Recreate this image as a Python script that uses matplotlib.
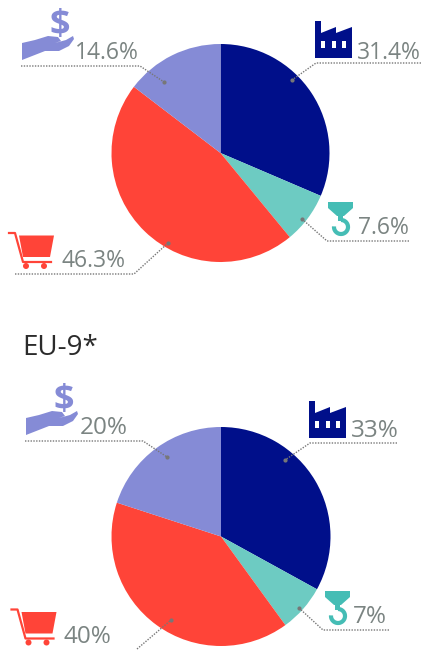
import matplotlib
matplotlib.use("Agg")
import matplotlib.pyplot as plt
from matplotlib.patches import Polygon, Rectangle, Circle, Arc

plt.rcParams['font.family'] = ['Open Sans', 'DejaVu Sans']

# shares, clockwise from 12 o'clock: industry, construction, consumption, finance
top_values = [31.4, 7.6, 46.3, 14.6]
top_labels = ["31.4%", "7.6%", "46.3%", "14.6%"]
bottom_values = [33, 7, 40, 20]
bottom_labels = ["33%", "7%", "40%", "20%"]
title = "EU-9*"

colors = ["#000f8a", "#6dcbc2", "#ff4438", "#858bd6"]
hook_color = "#45bdb5"
grey = "#7b8482"

# figure in pixels, y going down
fig = plt.figure(figsize=(4.22, 6.5), dpi=100)
ax = fig.add_axes([0, 0, 1, 1])


def draw_factory(x, y):
    pts = [(0, 0), (6, 0), (6, 12), (21, 6), (21, 12), (37, 6), (37, 37), (0, 37)]
    ax.add_patch(Polygon([(x + a, y + b) for a, b in pts], color=colors[0], lw=0, zorder=4))
    for wx in [6, 16.5, 27]:
        ax.add_patch(Rectangle((x + wx, y + 20), 4, 7, color="white", lw=0, zorder=5))


def draw_hook(x, y):
    pts = [(0, 0), (25, 0), (25, 6), (16, 14), (9, 14), (0, 6)]
    ax.add_patch(Polygon([(x + a, y + b) for a, b in pts], color=hook_color, lw=0, zorder=4))
    ax.add_patch(Rectangle((x + 10, y + 12), 5, 7, color=hook_color, lw=0, zorder=4))
    ax.add_patch(Arc((x + 13, y + 25), 14, 14, theta1=-90, theta2=185, color=hook_color, lw=3, zorder=4))


def draw_cart(x, y):
    body = [(10, 2.5), (45, 2.5), (41, 24), (14, 24)]
    ax.add_patch(Polygon([(x + a, y + b) for a, b in body], color=colors[2], lw=0, zorder=4))
    ax.plot([x, x + 6, x + 14, x + 42], [y, y, y + 29, y + 29], color=colors[2], lw=1.6, zorder=4)
    for wx in [17, 35]:
        ax.add_patch(Circle((x + wx, y + 33), 3, color=colors[2], lw=0, zorder=4))


def draw_hand(x, y):
    pts = [(0, 12), (13, 9), (26, 5), (36, 6), (39, 10), (33, 12), (44, 9), (51, 5), (52, 8),
           (47, 15), (37, 20), (23, 20), (0, 29)]
    ax.add_patch(Polygon([(x + a, y + b) for a, b in pts], color=colors[3], lw=0, zorder=4))
    ax.text(x + 38, y - 5, "$", color=colors[3], fontsize=26, fontweight="bold", ha="center", va="center",
            zorder=4)


def draw_leader(points):
    xs = [p[0] for p in points]
    ys = [p[1] for p in points]
    ax.plot(xs, ys, color="#777777", lw=1, ls=(0, (1, 1)), zorder=3)
    ax.plot(xs[-1], ys[-1], "o", color="#777777", ms=2, zorder=3)


# pies (y axis is inverted, so start at -90 and run "counterclock" to go clockwise from the top)
ax.pie(top_values, colors=colors, startangle=-90, counterclock=True,
       center=(220.5, 153), radius=109, wedgeprops={"linewidth": 0})
ax.pie(bottom_values, colors=colors, startangle=-90, counterclock=True,
       center=(221, 536.5), radius=109.5, wedgeprops={"linewidth": 0})

# leaders
draw_leader([(421, 63), (316, 63), (292, 80)])
draw_leader([(409, 241), (327, 241), (302, 219)])
draw_leader([(15, 274), (134, 274), (168, 243)])
draw_leader([(21, 66), (140, 66), (164, 82)])
draw_leader([(397, 443), (310, 443), (285, 460)])
draw_leader([(389, 630), (323, 630), (299, 608)])
draw_leader([(137, 649), (171, 620)])
draw_leader([(25, 441), (143, 441), (167, 457)])

# icons
draw_factory(315, 21)
draw_hook(328, 202)
draw_cart(9, 233)
draw_hand(22, 31)
draw_factory(309, 401)
draw_hook(325, 591)
draw_cart(11.5, 609.5)
draw_hand(26, 406)

# labels
label_pos_top = [(357, 53), (358, 228), (61, 261), (75, 53)]
label_pos_bottom = [(351, 431), (353, 617), (64, 637), (80, 428)]
for (x, y), s in zip(label_pos_top, top_labels):
    ax.text(x, y, s, color=grey, fontsize=16.5, ha="left", va="center", zorder=6)
for (x, y), s in zip(label_pos_bottom, bottom_labels):
    ax.text(x, y, s, color=grey, fontsize=17.5, ha="left", va="center", zorder=6)

ax.text(22, 348, title, color="#2b2b2b", fontsize=20, ha="left", va="center")

ax.set_xlim(0, 422)
ax.set_ylim(650, 0)
ax.set_aspect("auto")
ax.axis("off")
fig.savefig("out.png", dpi=100)
